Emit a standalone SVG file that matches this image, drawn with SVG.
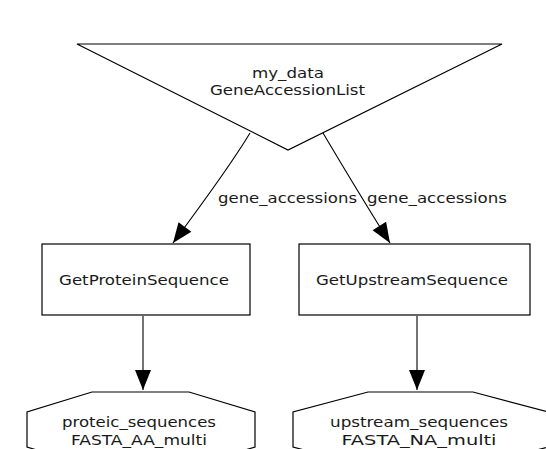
<svg xmlns="http://www.w3.org/2000/svg" width="546" height="449" viewBox="0 0 546 449">
  <style>
    .shape { fill: #ffffff; stroke: #000000; stroke-width: 1.2; }
    .edge { fill: none; stroke: #000000; stroke-width: 1.1; }
    text { font-family: "DejaVu Sans", "Liberation Sans", sans-serif; font-size: 14px; fill: #1a1a1a; text-anchor: middle; }
  </style>
  <defs>
    <marker id="arrow" markerUnits="userSpaceOnUse" markerWidth="22" markerHeight="18" viewBox="0 -9 21 18" refX="20" refY="0" orient="auto">
      <path d="M0,-8 L20,0 L0,8 Z" fill="#000000"/>
    </marker>
  </defs>
  <rect width="546" height="449" fill="#ffffff"/>

  <g id="connectors">
    <path class="edge" d="M250,133 C232,163 205,200 173,243" marker-end="url(#arrow)"/>
    <path class="edge" d="M323,133 C342,165 366,205 390,243" marker-end="url(#arrow)"/>
    <path class="edge" d="M143,316 L143,390" marker-end="url(#arrow)"/>
    <path class="edge" d="M417,316 L417,390" marker-end="url(#arrow)"/>
    <text x="287.5" y="203" textLength="139" lengthAdjust="spacingAndGlyphs">gene_accessions</text>
    <text x="437" y="203" textLength="140" lengthAdjust="spacingAndGlyphs">gene_accessions</text>
  </g>

  <g id="my_data">
    <polygon class="shape" points="77,44 502,44 288,150"/>
    <text x="288" y="78" textLength="72" lengthAdjust="spacingAndGlyphs">my_data</text>
    <text x="287.5" y="95" textLength="155" lengthAdjust="spacingAndGlyphs">GeneAccessionList</text>
  </g>

  <g id="GetProteinSequence">
    <rect class="shape" x="42" y="244" width="208" height="71"/>
    <text x="144" y="285" textLength="170" lengthAdjust="spacingAndGlyphs">GetProteinSequence</text>
  </g>

  <g id="GetUpstreamSequence">
    <rect class="shape" x="299" y="244" width="231" height="71"/>
    <text x="412" y="285" textLength="192" lengthAdjust="spacingAndGlyphs">GetUpstreamSequence</text>
  </g>

  <g id="proteic_sequences">
    <polygon class="shape" points="92,392 189,392 255,412 255,447 189,467 92,467 27,447 27,412"/>
    <text x="139" y="427" textLength="154" lengthAdjust="spacingAndGlyphs">proteic_sequences</text>
    <text x="139" y="445" textLength="136" lengthAdjust="spacingAndGlyphs">FASTA_AA_multi</text>
  </g>

  <g id="upstream_sequences">
    <polygon class="shape" points="368,392 473,392 548,412 548,447 473,467 368,467 293,447 293,412"/>
    <text x="419" y="427" textLength="178" lengthAdjust="spacingAndGlyphs">upstream_sequences</text>
    <text x="419" y="445" textLength="155" lengthAdjust="spacingAndGlyphs">FASTA_NA_multi</text>
  </g>
</svg>
